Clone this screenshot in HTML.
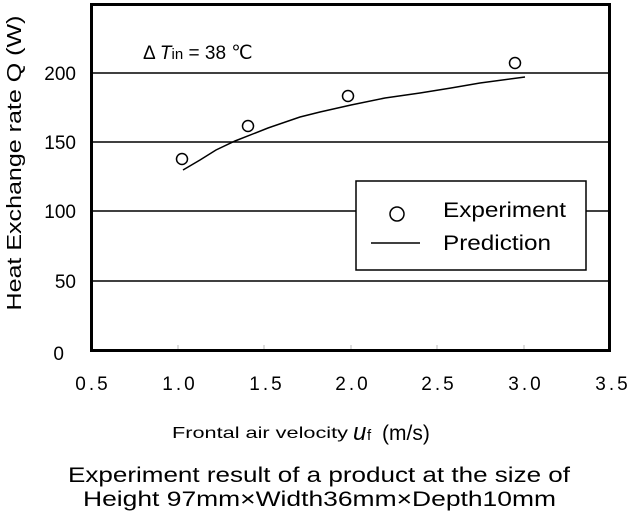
<!DOCTYPE html>
<html><head><meta charset="utf-8"><style>
body{margin:0;background:#fff;}
svg{display:block;font-family:"Liberation Sans",sans-serif;}
</style></head><body>
<svg width="635" height="520" viewBox="0 0 635 520">
<rect x="0" y="0" width="635" height="520" fill="#fff"/>
<g stroke="#000" stroke-width="1.5">
<line x1="91" y1="73" x2="610" y2="73"/>
<line x1="91" y1="142" x2="610" y2="142"/>
<line x1="91" y1="211" x2="610" y2="211"/>
<line x1="91" y1="281" x2="610" y2="281"/>
</g>
<g stroke="#bbb" stroke-width="1">
<line x1="178" y1="345" x2="178" y2="350"/><line x1="264" y1="345" x2="264" y2="350"/>
<line x1="351" y1="345" x2="351" y2="350"/><line x1="437" y1="345" x2="437" y2="350"/>
<line x1="524" y1="345" x2="524" y2="350"/>
</g>
<rect x="91.5" y="4.5" width="518" height="346" fill="none" stroke="#000" stroke-width="3"/>
<polyline fill="none" stroke="#000" stroke-width="1.5" points="183,170 200,160 216,150 235,141 268,128 300,117 320,112 351,105 385,98 420,93 451,88 480,83 525,77"/>
<g fill="none" stroke="#000" stroke-width="1.5">
<circle cx="182" cy="159" r="5.5"/>
<circle cx="248" cy="126" r="5.5"/>
<circle cx="348" cy="96" r="5.5"/>
<circle cx="515" cy="63" r="5.5"/>
</g>
<rect x="356" y="181" width="230" height="89" fill="#fff" stroke="#000" stroke-width="1.5"/>
<circle cx="397" cy="214" r="7" fill="none" stroke="#000" stroke-width="1.5"/>
<line x1="371" y1="243" x2="420" y2="243" stroke="#000" stroke-width="1.5"/>
<text x="443" y="217" font-size="21" textLength="123" lengthAdjust="spacingAndGlyphs">Experiment</text>
<text x="443" y="250" font-size="21" textLength="108" lengthAdjust="spacingAndGlyphs">Prediction</text>
<text x="143" y="59" font-size="19">Δ <tspan font-style="italic">T</tspan><tspan font-size="15">in</tspan> = 38 ℃</text>
<g font-size="19" text-anchor="end">
<text x="76" y="80">200</text><text x="76" y="149">150</text><text x="76" y="218">100</text>
<text x="76" y="288">50</text><text x="64" y="360">0</text>
</g>
<g font-size="19" text-anchor="middle" letter-spacing="3">
<text x="93" y="390">0.5</text><text x="180" y="390">1.0</text><text x="267" y="390">1.5</text>
<text x="353" y="390">2.0</text><text x="439" y="390">2.5</text><text x="526" y="390">3.0</text>
<text x="613" y="390">3.5</text>
</g>
<text transform="translate(21,163) rotate(-90)" font-size="20" text-anchor="middle" textLength="295" lengthAdjust="spacingAndGlyphs">Heat Exchange rate Q (W)</text>
<text x="172" y="438" font-size="16" textLength="176" lengthAdjust="spacingAndGlyphs">Frontal air velocity</text>
<text x="353" y="440" font-size="24" font-style="italic">u</text>
<text x="367" y="440" font-size="15">f</text>
<text x="382" y="440" font-size="21">(m/s)</text>
<text x="68" y="482" font-size="21" textLength="502" lengthAdjust="spacingAndGlyphs">Experiment result of a product at the size of</text>
<text x="83" y="506" font-size="21" textLength="473" lengthAdjust="spacingAndGlyphs">Height 97mm×Width36mm×Depth10mm</text>
</svg>
</body></html>
